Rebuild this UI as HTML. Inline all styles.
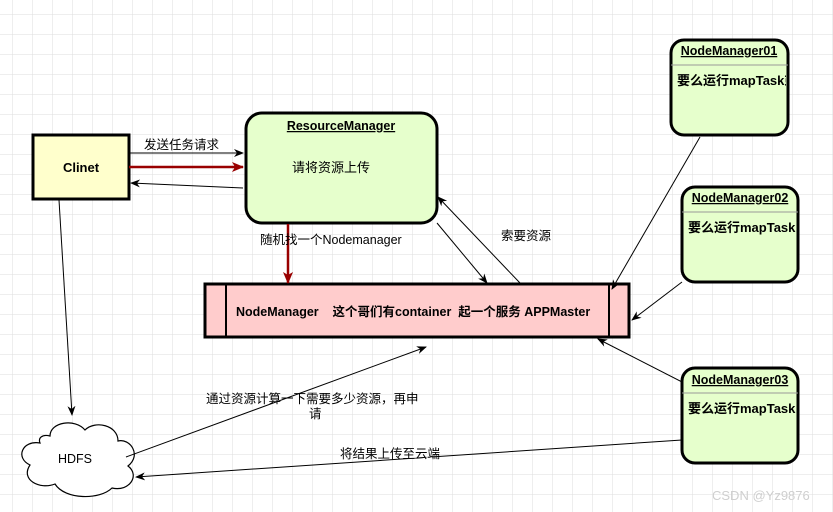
<!DOCTYPE html>
<html><head><meta charset="utf-8"><style>
html,body{margin:0;padding:0;background:#fff;}
svg{display:block;}
text{font-family:"Liberation Sans","Noto Sans CJK SC",sans-serif;}
</style></head><body>
<svg width="833" height="512" viewBox="0 0 833 512" xmlns="http://www.w3.org/2000/svg">
<defs>
<pattern id="g" width="20" height="20" patternUnits="userSpaceOnUse" x="-7" y="-5">
<path d="M20 0V20M0 20H20" stroke="#dedede" stroke-width="1" fill="none"/>
</pattern>
<marker id="a" markerWidth="10" markerHeight="10" refX="9" refY="5" orient="auto" markerUnits="userSpaceOnUse"><path d="M0,1 L10,5 L0,9 L3,5z" fill="#000"/></marker>
<marker id="r" markerWidth="12" markerHeight="12" refX="11" refY="6" orient="auto" markerUnits="userSpaceOnUse"><path d="M0,1 L12,6 L0,11 L3,6z" fill="#990000"/></marker>
<clipPath id="c1"><rect x="671" y="40" width="115" height="95"/></clipPath>
<clipPath id="c2"><rect x="682" y="187" width="114" height="95"/></clipPath>
<clipPath id="c3"><rect x="682" y="368" width="114" height="95"/></clipPath>
</defs>
<rect width="833" height="512" fill="url(#g)"/>

<rect x="33" y="135" width="96" height="64" fill="#ffffcc" stroke="#000" stroke-width="3"/>
<text x="81" y="172" font-size="13" font-weight="bold" text-anchor="middle">Clinet</text>

<rect x="246" y="113" width="191" height="110" rx="16" fill="#e6ffcc" stroke="#000" stroke-width="3"/>
<text x="341" y="130" font-size="12.5" font-weight="bold" text-anchor="middle" text-decoration="underline">ResourceManager</text>
<text x="292" y="172" font-size="13">请将资源上传</text>

<rect x="205" y="284" width="424" height="53" fill="#ffcccc" stroke="#000" stroke-width="3"/>
<line x1="226" y1="284" x2="226" y2="337" stroke="#000" stroke-width="2"/>
<line x1="609" y1="284" x2="609" y2="337" stroke="#000" stroke-width="2"/>
<text x="236" y="316" font-size="12.5" font-weight="bold" xml:space="preserve">NodeManager    这个哥们有container  起一个服务 APPMaster</text>

<rect x="671" y="40" width="117" height="95" rx="13" fill="#e6ffcc" stroke="#000" stroke-width="3"/>
<line x1="671" y1="65" x2="788" y2="65" stroke="#999" stroke-width="1"/>
<text x="729" y="55" font-size="12.5" font-weight="bold" text-anchor="middle" text-decoration="underline">NodeManager01</text>
<text x="677" y="85" font-size="13" font-weight="bold" clip-path="url(#c1)">要么运行mapTask或</text>

<rect x="682" y="187" width="116" height="95" rx="13" fill="#e6ffcc" stroke="#000" stroke-width="3"/>
<line x1="682" y1="212" x2="798" y2="212" stroke="#999" stroke-width="1"/>
<text x="740" y="202" font-size="12.5" font-weight="bold" text-anchor="middle" text-decoration="underline">NodeManager02</text>
<text x="688" y="232" font-size="13" font-weight="bold" clip-path="url(#c2)">要么运行mapTask或</text>

<rect x="682" y="368" width="116" height="95" rx="13" fill="#e6ffcc" stroke="#000" stroke-width="3"/>
<line x1="682" y1="393" x2="798" y2="393" stroke="#999" stroke-width="1"/>
<text x="740" y="384" font-size="12.5" font-weight="bold" text-anchor="middle" text-decoration="underline">NodeManager03</text>
<text x="688" y="413" font-size="13" font-weight="bold" clip-path="url(#c3)">要么运行mapTask或</text>

<path d="M40,443 C22,440 15,458 30,465 C20,480 40,490 55,484 C65,500 100,500 112,488 C130,492 140,475 128,466 C142,455 130,438 118,441 C118,425 95,420 85,430 C75,418 50,422 50,436 C42,434 38,438 40,443 Z" fill="#fff" stroke="#000" stroke-width="1.2"/>
<text x="75" y="463" font-size="12.5" text-anchor="middle">HDFS</text>

<line x1="130" y1="153" x2="243" y2="153" stroke="#000" stroke-width="1" marker-end="url(#a)"/>
<text x="144" y="149" font-size="12.5">发送任务请求</text>
<line x1="129" y1="167" x2="243" y2="167" stroke="#990000" stroke-width="2.5" marker-end="url(#r)"/>
<line x1="243" y1="188" x2="131" y2="183" stroke="#000" stroke-width="1" marker-end="url(#a)"/>
<line x1="288" y1="224" x2="288" y2="283" stroke="#990000" stroke-width="2.5" marker-end="url(#r)"/>
<text x="260" y="244" font-size="12.5">随机找一个Nodemanager</text>
<line x1="520" y1="283" x2="438" y2="197" stroke="#000" stroke-width="1" marker-end="url(#a)"/>
<line x1="437" y1="223" x2="487" y2="283" stroke="#000" stroke-width="1" marker-end="url(#a)"/>
<text x="501" y="240" font-size="12.5">索要资源</text>
<line x1="700" y1="137" x2="612" y2="289" stroke="#000" stroke-width="1" marker-end="url(#a)"/>
<line x1="682" y1="282" x2="632" y2="320" stroke="#000" stroke-width="1" marker-end="url(#a)"/>
<line x1="682" y1="382" x2="598" y2="339" stroke="#000" stroke-width="1" marker-end="url(#a)"/>
<line x1="59" y1="200" x2="72" y2="415" stroke="#000" stroke-width="1" marker-end="url(#a)"/>
<line x1="126" y1="457" x2="426" y2="347" stroke="#000" stroke-width="1" marker-end="url(#a)"/>
<text x="206" y="403" font-size="12.5">通过资源计算一下需要多少资源，再申</text>
<text x="309" y="418" font-size="12.5">请</text>
<line x1="682" y1="440" x2="136" y2="477" stroke="#000" stroke-width="1" marker-end="url(#a)"/>
<rect x="340" y="448" width="92" height="10" fill="#fff" opacity="0.6"/>
<text x="340" y="458" font-size="12.5">将结果上传至云端</text>

<text x="712" y="500" font-size="13" fill="#cfcfcf">CSDN @Yz9876</text>
</svg>
</body></html>
